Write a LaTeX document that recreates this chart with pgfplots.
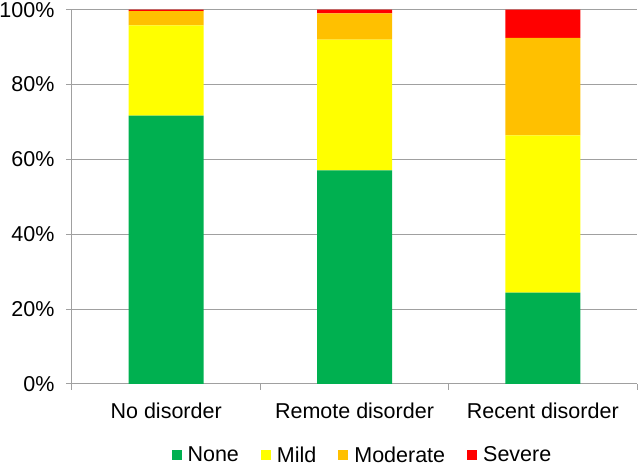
\documentclass[border=0pt]{standalone}
\usepackage{fontspec}
\setmainfont{Liberation Sans}
\usepackage{pgfplots}
\pgfplotsset{compat=1.18}
\definecolor{cnone}{HTML}{00B050}
\definecolor{cmild}{HTML}{FFFF00}
\definecolor{cmod}{HTML}{FFC000}
\definecolor{csev}{HTML}{FF0000}
\definecolor{gridgray}{RGB}{160,160,160}
\begin{document}
\begin{tikzpicture}
\useasboundingbox (-72pt,-84pt) rectangle (568pt,384pt);
\begin{axis}[
  scale only axis, width=565pt, height=374.3pt,
  ybar stacked, bar width=75pt,
  xmin=-0.5, xmax=2.5, ymin=0, ymax=100,
  enlargelimits=false,
  axis x line*=bottom, axis y line*=left,
  axis line style={-, draw=gridgray, line width=1pt},
  ymajorgrids, grid style={gridgray, line width=1pt},
  tick align=outside, major tick length=6pt,
  tick style={gridgray, line width=1pt},
  ytick={0,20,40,60,80,100},
  yticklabels={0\%,20\%,40\%,60\%,80\%,100\%},
  yticklabel style={xshift=-8pt},
  xtick={-0.5,0.5,1.5,2.5}, xticklabels={},
  extra x ticks={0,1,2},
  extra x tick labels={No disorder,Remote disorder,Recent disorder},
  extra x tick style={major tick length=0pt, grid=none,
    xticklabel style={yshift=-15pt}},
  tick label style={font=\fontsize{21.5}{24}\selectfont, text=black},
  legend style={draw=none, at={(0.514,-0.19)}, anchor=center,
    font=\fontsize{21.5}{24}\selectfont, legend columns=4,
    /tikz/every even column/.append style={column sep=20pt},
    /tikz/every odd column/.append style={column sep=4pt}},
  legend image code/.code={\fill[#1] (0pt,-5pt) rectangle (10pt,5pt);},
]
\addplot[fill=cnone, draw=none] coordinates {(0,71.7) (1,57.1) (2,24.4)};
\addplot[fill=cmild, draw=none] coordinates {(0,24.1) (1,34.9) (2,42.0)};
\addplot[fill=cmod, draw=none] coordinates {(0,3.8) (1,7.0) (2,26.1)};
\addplot[fill=csev, draw=none] coordinates {(0,0.4) (1,1.0) (2,7.5)};
\legend{None,Mild,Moderate,Severe}
\end{axis}
\end{tikzpicture}
\end{document}
